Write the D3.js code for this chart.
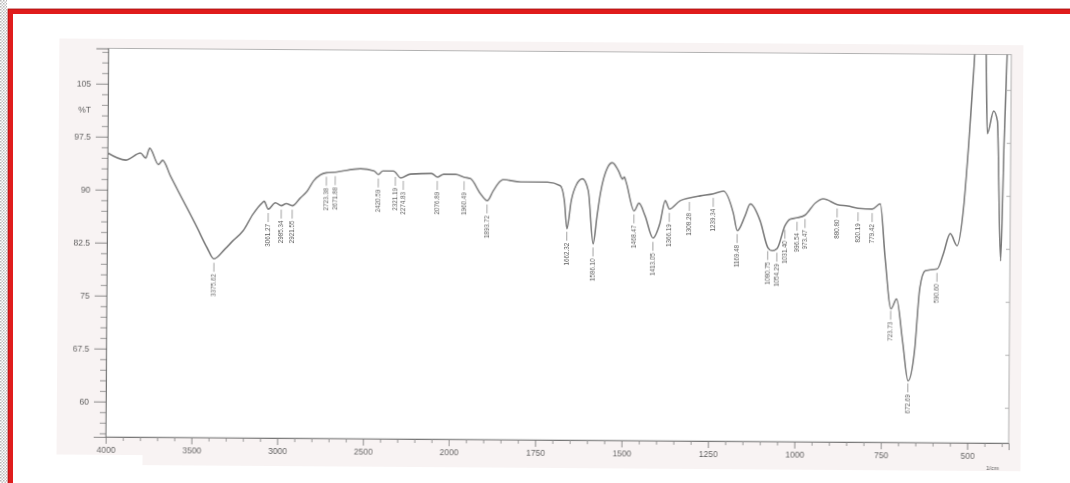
<!DOCTYPE html>
<html>
<head>
<meta charset="utf-8">
<script src="https://cdn.jsdelivr.net/npm/d3@7"></script>
<style>
  html, body { margin: 0; padding: 0; background: #fff; }
  svg { display: block; }
</style>
</head>
<body>
<svg id="chart" width="1070" height="483"></svg>
<script>
// FTIR spectrum: wavenumber (1/cm) against transmittance (%T)
const wavenumber = [
  4000, 3895, 3808, 3778, 3755, 3703, 3679, 3633, 3557, 3475, 3417, 3376, 3312, 3265,
  3207, 3149, 3096, 3085, 3061, 3020, 2985, 2956, 2921, 2875, 2834, 2799, 2758, 2723,
  2671, 2525, 2445, 2420, 2395, 2332, 2290, 2233, 2110, 2076, 2040, 1985, 1960, 1942,
  1913, 1893, 1876, 1855, 1847, 1797, 1719, 1682, 1670, 1662, 1650, 1636, 1618, 1601,
  1586, 1575, 1566, 1546, 1532, 1514, 1502, 1497, 1491, 1468, 1454, 1436, 1413, 1393,
  1378, 1366, 1335, 1308, 1277, 1239, 1210, 1181, 1169, 1147, 1132, 1103, 1080, 1068,
  1054, 1031, 1016, 996, 973, 944, 921, 880, 850, 820, 779, 756, 741, 723,
  707, 689, 672, 654, 640, 625, 605, 590, 573, 553, 533, 515, 501, 489,
  478, 462, 453, 448, 430, 419, 407, 399, 391
];
const transmittance = [
  95.2, 94.2, 95.2, 94.5, 95.9, 93.6, 94.2, 92.0, 88.5, 84.7, 81.9, 80.3, 81.7, 82.9,
  84.3, 86.7, 88.3, 88.5, 87.4, 88.3, 87.9, 88.2, 87.9, 89.0, 90.0, 91.4, 92.3, 92.6,
  92.7, 93.2, 92.9, 92.4, 92.9, 92.9, 91.95, 92.5, 92.6, 92.1, 92.5, 92.5, 92.1, 91.9,
  89.8, 88.8, 90.2, 91.6, 91.8, 91.5, 91.5, 91.0, 88.9, 84.9, 88.9, 91.1, 92.0, 90.3,
  82.8, 86.8, 89.9, 93.6, 94.3, 93.15, 92.0, 92.3, 91.45, 87.5, 88.6, 86.8, 83.7, 85.8,
  89.0, 87.8, 89.0, 89.4, 89.7, 90.0, 90.4, 87.3, 84.8, 86.9, 88.6, 86.2, 82.4, 82.0,
  82.3, 85.6, 86.5, 86.7, 87.1, 88.8, 89.4, 88.6, 88.4, 88.1, 88.0, 88.75, 81.1, 73.9,
  75.3, 69.4, 63.7, 68.0, 76.9, 79.3, 79.5, 79.6, 81.7, 84.6, 82.9, 88.3, 97.7, 107.2,
  115, 115, 110.3, 98.8, 102.0, 100.6, 80.8, 97.8, 112
];
const peakLabels = [
  3375.62, 3061.27, 2985.34, 2921.55, 2723.38, 2671.88, 2420.59, 2321.19, 2274.83,
  2076.89, 1960.49, 1893.72, 1662.32, 1586.10, 1468.47, 1413.05, 1366.19, 1308.28,
  1239.34, 1169.48, 1080.75, 1054.29, 1031.40, 996.54, 973.47, 880.80, 820.19,
  779.42, 723.73, 672.69, 590.60
];
const xTickValues = [4000, 3500, 3000, 2500, 2000, 1750, 1500, 1250, 1000, 750, 500];
const yTickValues = [60, 67.5, 75, 82.5, 90, 97.5, 105];
const yAxisTitle = "%T";
const yAxisTitleAt = 101.25;
const xAxisTitle = "1/cm";

const W = 1070, H = 483;
const frame = { left: 107, right: 1010, top: 51.5, bottom: 440 };

// Shimadzu-style layout: 4000-2000 at half the scale of 2000-380
const x = d3.scaleLinear().domain([4000, 2000, 380]).range([frame.left, 450, frame.right]);
const y = d3.scaleLinear().domain([55, 110]).range([frame.bottom, frame.top]);

const svg = d3.select("#chart");
const defs = svg.append("defs");

defs.append("filter").attr("id", "soft")
  .attr("x", "-5%").attr("y", "-5%").attr("width", "110%").attr("height", "110%")
  .append("feGaussianBlur").attr("stdDeviation", 0.45);

defs.append("clipPath").attr("id", "plotClip")
  .append("rect")
  .attr("x", frame.left).attr("y", frame.top)
  .attr("width", frame.right - frame.left).attr("height", frame.bottom - frame.top);

const dots = defs.append("pattern").attr("id", "dots")
  .attr("width", 3).attr("height", 3).attr("patternUnits", "userSpaceOnUse");
dots.append("rect").attr("width", 3).attr("height", 3).attr("fill", "#fff");
dots.append("rect").attr("width", 1.5).attr("height", 1.5).attr("fill", "#b8b8b8");
dots.append("rect").attr("x", 1.5).attr("y", 1.5).attr("width", 1.5).attr("height", 1.5).attr("fill", "#c8c8c8");

// page backdrop
svg.append("rect").attr("width", W).attr("height", H).attr("fill", "#fff");
svg.append("rect").attr("x", 0).attr("y", 0).attr("width", 7).attr("height", H).attr("fill", "url(#dots)");
svg.append("rect")
  .attr("x", 10.5).attr("y", 11.5).attr("width", W + 20).attr("height", H + 20)
  .attr("fill", "none").attr("stroke", "#e01c1c").attr("stroke-width", 5);
svg.append("rect")
  .attr("x", 8).attr("y", 9).attr("width", W + 20).attr("height", H + 20)
  .attr("fill", "none").attr("stroke", "#a01010").attr("stroke-width", 0.8);

// chart sheet, slightly turned
const g = svg.append("g")
  .attr("transform", "rotate(0.4, 560, 245)")
  .attr("filter", "url(#soft)");

g.append("rect").attr("x", 58).attr("y", 42).attr("width", 964).attr("height", 426).attr("fill", "#f8f3f3");
g.append("rect").attr("x", 58).attr("y", 458).attr("width", 86).attr("height", 12).attr("fill", "#fff");
g.append("rect")
  .attr("x", frame.left).attr("y", frame.top)
  .attr("width", frame.right - frame.left).attr("height", frame.bottom - frame.top)
  .attr("fill", "#fff").attr("stroke", "#a9a9a9").attr("stroke-width", 0.9);

const fontFamily = "'Liberation Sans', Arial, sans-serif";
const ink = "#555";

function styleAxis(sel, color) {
  sel.select(".domain").attr("stroke", color).attr("stroke-width", 1);
  sel.selectAll(".tick line").attr("stroke", color).attr("stroke-width", 0.9);
  sel.selectAll(".tick text").attr("fill", ink).attr("font-size", 8.5).attr("font-family", fontFamily);
}

// y axis: major, minor and right-hand ticks
const yMajor = g.append("g").attr("transform", `translate(${frame.left},0)`)
  .call(d3.axisLeft(y).tickValues(yTickValues).tickSize(12).tickPadding(5).tickFormat(d3.format("~g")));
styleAxis(yMajor, "#777");
const yMinor = g.append("g").attr("transform", `translate(${frame.left},0)`)
  .call(d3.axisLeft(y).tickValues(d3.range(55.5, 110, 1.5).filter(v => !yTickValues.some(t => Math.abs(t - v) < 1e-6)))
    .tickSize(6).tickFormat(""));
styleAxis(yMinor, "#888");
yMinor.select(".domain").remove();
const yRight = g.append("g").attr("transform", `translate(${frame.right},0)`)
  .call(d3.axisLeft(y).tickValues(yTickValues).tickSize(4).tickFormat(""));
styleAxis(yRight, "#aaa");
yRight.select(".domain").remove();

g.append("text")
  .attr("x", frame.left - 17).attr("y", y(yAxisTitleAt)).attr("dy", "0.32em")
  .attr("text-anchor", "end").attr("font-size", 8.5).attr("font-family", fontFamily)
  .attr("fill", ink).text(yAxisTitle);

// x axis: major and minor ticks
const xMinorValues = [...d3.range(3900, 2000, -100), ...d3.range(1950, 380, -50)]
  .filter(v => !xTickValues.includes(v));
const xMajor = g.append("g").attr("transform", `translate(0,${frame.bottom})`)
  .call(d3.axisBottom(x).tickValues(xTickValues).tickSize(7).tickPadding(3).tickFormat(d3.format("d")));
styleAxis(xMajor, "#777");
const xMinor = g.append("g").attr("transform", `translate(0,${frame.bottom})`)
  .call(d3.axisBottom(x).tickValues(xMinorValues).tickSize(4).tickFormat(""));
styleAxis(xMinor, "#888");
xMinor.select(".domain").remove();

g.append("text")
  .attr("x", frame.right - 16).attr("y", frame.bottom + 27)
  .attr("text-anchor", "middle").attr("font-size", 6).attr("font-family", fontFamily)
  .attr("fill", ink).text(xAxisTitle);

// spectrum trace
const spectrum = wavenumber.map((w, i) => ({ w, t: transmittance[i] }));
const line = d3.line().x(d => x(d.w)).y(d => y(d.t)).curve(d3.curveMonotoneX);
g.append("path")
  .datum(spectrum)
  .attr("clip-path", "url(#plotClip)")
  .attr("d", line)
  .attr("fill", "none").attr("stroke", "#7a7a7a").attr("stroke-width", 1.6)
  .attr("stroke-linejoin", "round");

// transmittance of the trace at any wavenumber (linear between readings)
function traceAt(w) {
  for (let i = 0; i < spectrum.length - 1; i++) {
    const a = spectrum[i], b = spectrum[i + 1];
    if (w <= a.w && w >= b.w) {
      const f = (a.w - w) / (a.w - b.w);
      return a.t + f * (b.t - a.t);
    }
  }
  return spectrum[spectrum.length - 1].t;
}

// peak annotations: leader tick under the trace, value printed vertically
const peaks = g.append("g").selectAll("g").data(peakLabels).join("g")
  .attr("transform", d => `translate(${x(d)},${y(traceAt(d))})`);
peaks.append("line")
  .attr("x1", 0).attr("x2", 0).attr("y1", 4).attr("y2", 13)
  .attr("stroke", "#777").attr("stroke-width", 0.7);
peaks.append("text")
  .attr("transform", "translate(0,15) rotate(-90)")
  .attr("text-anchor", "end").attr("dy", "0.35em")
  .attr("font-size", 6.3).attr("font-family", fontFamily).attr("fill", "#555")
  .text(d => d3.format(".2f")(d));
</script>
</body>
</html>
